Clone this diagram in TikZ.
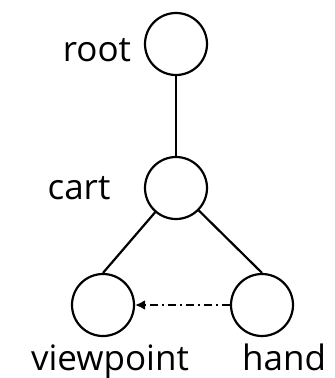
\documentclass[tikz,border=0pt]{standalone}
\usepackage{fontspec}
\setmainfont{Open Sans}
\usetikzlibrary{arrows.meta}
\tikzset{
  joint/.style={circle, draw, line width=2.2pt, minimum size=62pt, inner sep=0pt},
  jname/.style={inner sep=0pt, anchor=base, font=\fontsize{35}{35}\selectfont},
  link/.style={line width=2.2pt},
  follow/.style={line width=2.2pt, dash pattern=on 8pt off 4pt on 2pt off 4pt, -{Latex[length=10pt,width=10pt]}},
}

\begin{document}
\begin{tikzpicture}[x=1pt, y=-1pt]
    \useasboundingbox (0,0) rectangle (335,378);
    % joints
    \node[joint] (root) at (176,44) {};
    \node[joint] (cart) at (176,188) {};
    \node[joint] (viewpoint) at (103,305) {};
    \node[joint] (hand) at (262,305) {};
    % names
    \node[jname] (rootname) at (97,61) {root};
    \node[jname] (cartname) at (79,199) {cart};
    \node[jname] (viewpointname) at (110,370) {viewpoint};
    \node[jname] (handname) at (284,370) {hand};
    % links
    \draw[link] (root) -- (cart);
    \draw[link] (cart) -- (viewpoint.north);
    \draw[link] (cart) -- (hand.north);
    \draw[follow] (hand) -- (viewpoint);
\end{tikzpicture}
\end{document}
